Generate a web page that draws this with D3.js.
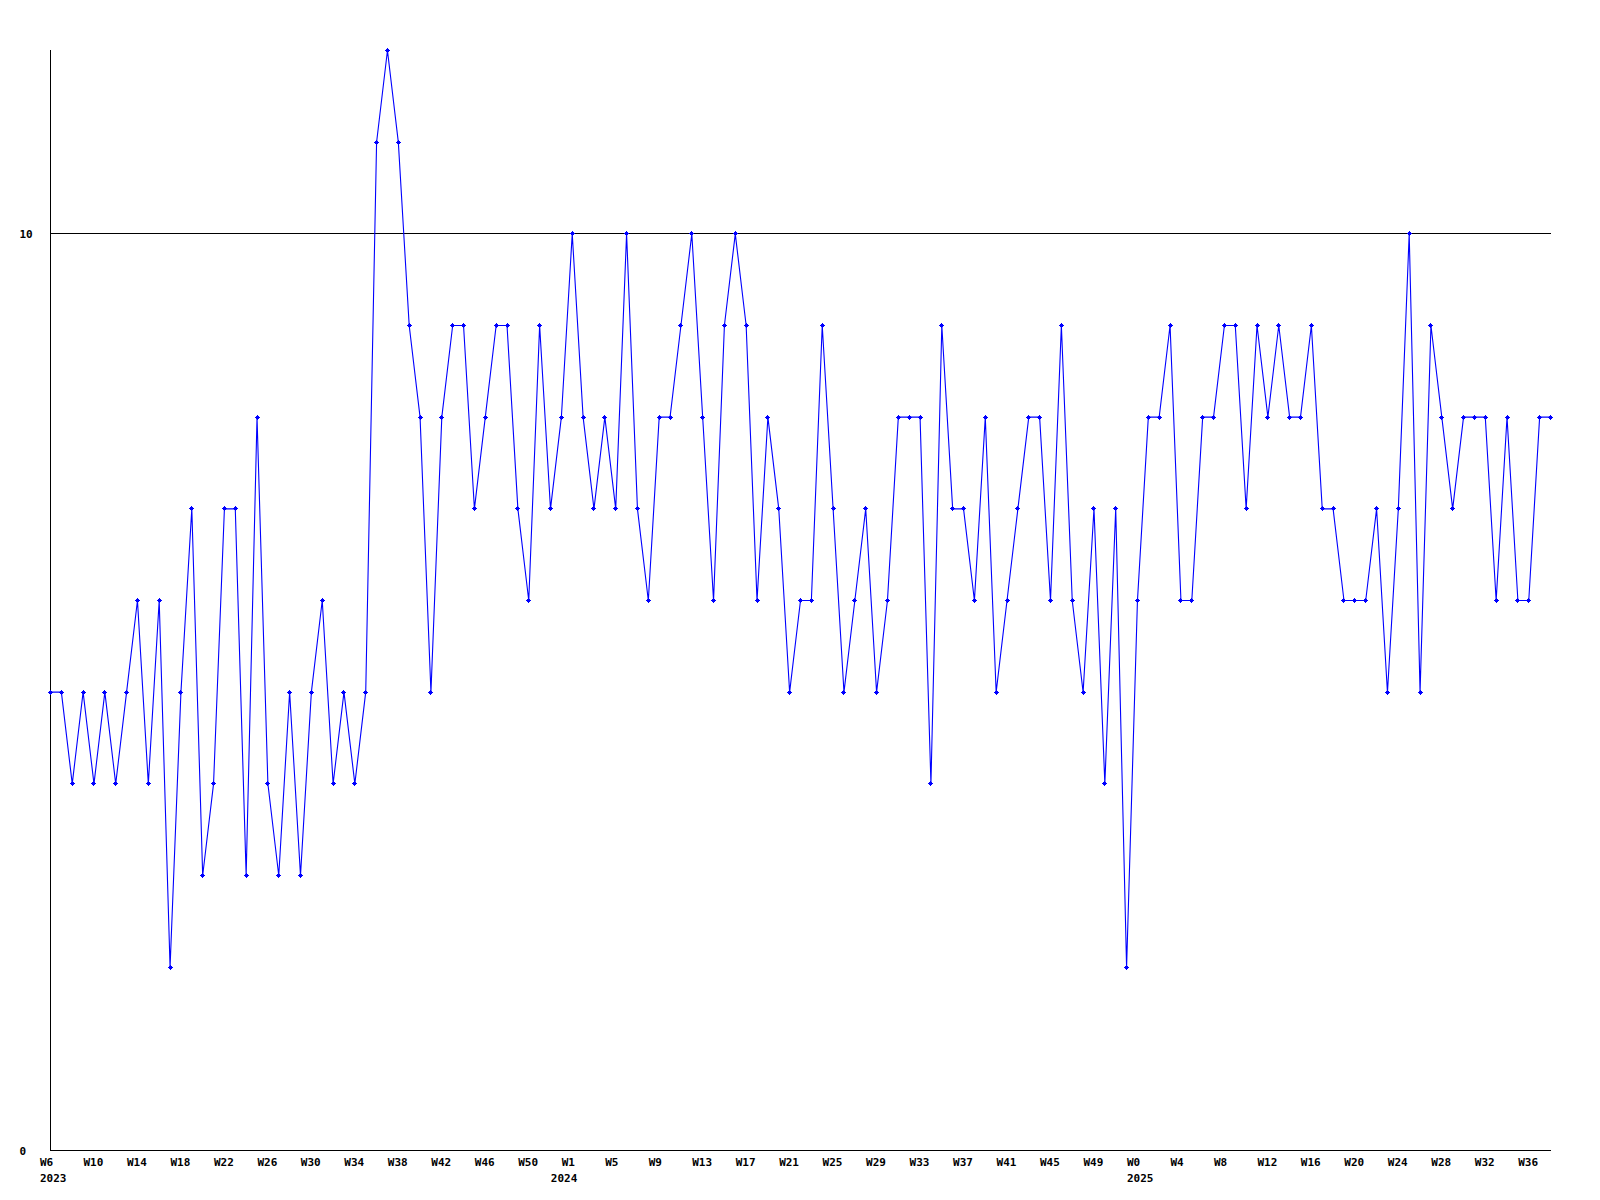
<!DOCTYPE html>
<html>
<head>
<meta charset="utf-8">
<script src="https://cdn.jsdelivr.net/npm/d3@7"></script>
<style>
  html, body { margin: 0; padding: 0; background: #ffffff; }
  svg { display: block; }
  text { font-family: "DejaVu Sans Mono", "Liberation Mono", monospace; font-weight: bold; font-size: 11px; fill: #000; }
</style>
</head>
<body>
<script>
// ---- data ----
const years = ["2023", "2024", "2025"];
const weeks2023 = d3.range(6, 53).map(w => "W" + w);   // W6 .. W52
const weeks2024 = d3.range(0, 53).map(w => "W" + w);   // W0 .. W52
const weeks2025 = d3.range(0, 39).map(w => "W" + w);   // W0 .. W38
const categories = []
  .concat(weeks2023.map(w => ({ week: w, year: "2023" })))
  .concat(weeks2024.map(w => ({ week: w, year: "2024" })))
  .concat(weeks2025.map(w => ({ week: w, year: "2025" })));

const values = [
  5, 5, 4, 5, 4, 5, 4, 5, 6, 4, 6, 2, 5, 7, 3, 4, 7, 7, 3, 8,
  4, 3, 5, 3, 5, 6, 4, 5, 4, 5, 11, 12, 11, 9, 8, 5, 8, 9, 9, 7,
  8, 9, 9, 7, 6, 9, 7, 8, 10, 8, 7, 8, 7, 10, 7, 6, 8, 8, 9, 10,
  8, 6, 9, 10, 9, 6, 8, 7, 5, 6, 6, 9, 7, 5, 6, 7, 5, 6, 8, 8,
  8, 4, 9, 7, 7, 6, 8, 5, 6, 7, 8, 8, 6, 9, 6, 5, 7, 4, 7, 2,
  6, 8, 8, 9, 6, 6, 8, 8, 9, 9, 7, 9, 8, 9, 8, 8, 9, 7, 7, 6,
  6, 6, 7, 5, 7, 10, 5, 9, 8, 7, 8, 8, 8, 6, 8, 6, 6, 8, 8
];
const yTickValues = [0, 10];
const yGridValues = [10];
const yMax = 12;
const tickEvery = 4;

(function draw() {
  const W = 1600, H = 1200;
  const mLeft = 50, mRight = 1550, mTop = 50, mBottom = 1150;

  const svg = d3.select("body").append("svg")
    .attr("width", W).attr("height", H)
    .attr("viewBox", `0 0 ${W} ${H}`);

  svg.append("rect").attr("width", W).attr("height", H).attr("fill", "#fff");

  const x = d3.scaleLinear().domain([0, categories.length - 1]).range([mLeft + 0.5, mRight + 0.5]);
  const y = d3.scaleLinear().domain([0, yMax]).range([mBottom + 0.5, mTop + 0.5]);

  // grid line at 10
  svg.append("g").selectAll("line").data(yGridValues).join("line")
    .attr("x1", mLeft).attr("x2", mRight + 1)
    .attr("y1", d => Math.round(y(d)) - 0.5).attr("y2", d => Math.round(y(d)) - 0.5)
    .attr("stroke", "#000").attr("stroke-width", 1)
    .attr("shape-rendering", "crispEdges");

  // axes lines
  svg.append("line")
    .attr("x1", mLeft + 0.5).attr("x2", mLeft + 0.5)
    .attr("y1", y(yMax) - 0.5).attr("y2", y(0) + 0.5)
    .attr("stroke", "#000").attr("shape-rendering", "crispEdges");
  svg.append("line")
    .attr("x1", mLeft).attr("x2", mRight + 1)
    .attr("y1", y(0)).attr("y2", y(0))
    .attr("stroke", "#000").attr("shape-rendering", "crispEdges");

  // y labels
  svg.append("g").selectAll("text").data(yTickValues).join("text")
    .attr("x", 19.5)
    .attr("y", d => Math.round(y(d)) + 3.5)
    .text(d => d);

  // x labels
  const tickIdx = d3.range(0, categories.length, tickEvery);
  svg.append("g").selectAll("text").data(tickIdx).join("text")
    .attr("x", i => x(i) - 10.5)
    .attr("y", mBottom + 16)
    .text(i => categories[i].week);

  // year labels at first category of each year
  const yearStarts = years.map(yr => categories.findIndex(c => c.year === yr));
  svg.append("g").selectAll("text").data(yearStarts).join("text")
    .attr("x", i => x(i) - 10.5)
    .attr("y", mBottom + 31.5)
    .text(i => categories[i].year);

  // line
  const line = d3.line().x((d, i) => x(i)).y(d => y(d));
  svg.append("path")
    .datum(values)
    .attr("d", line)
    .attr("fill", "none")
    .attr("stroke", "#0000ff")
    .attr("stroke-width", 1.1);

  // markers (small plus with solid centre)
  const mk = svg.append("g").attr("fill", "#0000ff").attr("shape-rendering", "crispEdges");
  const cx = (d, i) => Math.round(x(i) - 0.5);
  const cy = d => Math.round(y(d) - 0.5);
  mk.selectAll("rect.h").data(values).join("rect")
    .attr("class", "h")
    .attr("x", (d, i) => cx(d, i) - 2).attr("y", d => cy(d))
    .attr("width", 5).attr("height", 1);
  mk.selectAll("rect.v").data(values).join("rect")
    .attr("class", "v")
    .attr("x", (d, i) => cx(d, i)).attr("y", d => cy(d) - 2)
    .attr("width", 1).attr("height", 5);
  mk.selectAll("rect.c").data(values).join("rect")
    .attr("class", "c")
    .attr("x", (d, i) => cx(d, i) - 1).attr("y", d => cy(d) - 1)
    .attr("width", 3).attr("height", 3);
})();
</script>
</body>
</html>
